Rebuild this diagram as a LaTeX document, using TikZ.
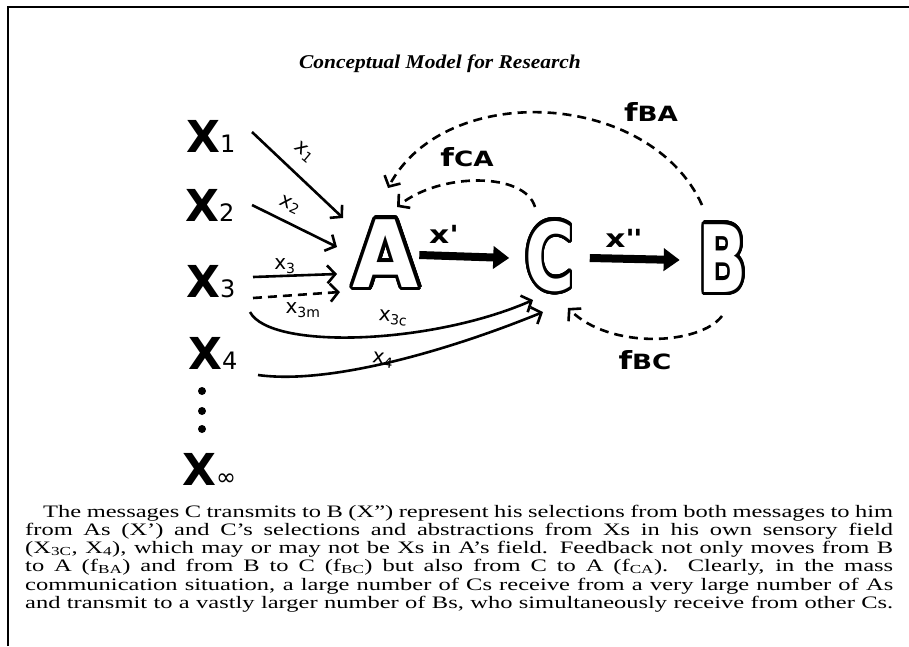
\documentclass[tikz,border=0pt]{standalone}
\usepackage{fontspec}
\setmainfont{Liberation Serif}[FakeStretch=1.4]
\newfontfamily\titlefont{Liberation Serif}[FakeStretch=1.1]
\newfontfamily\handfont{DejaVu Sans}
\newfontfamily\labelfont{DejaVu Sans}[FakeStretch=1.25]
\usepackage[copies]{contour}
\contourlength{3.5pt}
\contournumber{32}
\usetikzlibrary{arrows.meta}

\newcommand{\bigX}[1]{{\fontsize{44}{44}\selectfont\bfseries X}{\fontsize{24}{24}\selectfont #1}}
\newcommand{\flab}[1]{{\fontsize{25}{25}\selectfont f}{\fontsize{21}{21}\selectfont #1}}

\tikzset{
  bigx/.style={anchor=base west, inner sep=0pt, font=\handfont},
  letter/.style={inner sep=0pt, text=white, font=\handfont\bfseries\fontsize{93}{93}\selectfont},
  flow/.style={line width=2.6pt, -{Straight Barb[length=8pt,width=18pt]}},
  feedback/.style={flow, dash pattern=on 9pt off 6pt},
  bigarrow/.style={line width=8pt, -{Triangle[length=16pt,width=22pt]}},
  lbl/.style={inner sep=0pt, font=\handfont\fontsize{20}{20}\selectfont},
  plbl/.style={inner sep=0pt, font=\labelfont\bfseries\fontsize{25}{25}\selectfont},
  flbl/.style={inner sep=0pt, font=\labelfont\bfseries},
  textline/.style={anchor=base west, inner sep=0pt, font=\fontsize{17.5}{17.5}\selectfont},
}

\begin{document}
\begin{tikzpicture}[x=1pt, y=-1pt]
    \useasboundingbox (0,0) rectangle (909,646);
    \draw[line width=2pt] (8,646) -- (8,7) -- (909,7);

    % title
    \node[anchor=base, inner sep=0pt, font=\titlefont\itshape\bfseries\fontsize{19.5}{19.5}\selectfont] (title) at (440,68) {Conceptual Model for Research};

    % sources
    \node[bigx] (X1) at (186,152) {\bigX{1}};
    \node[bigx] (X2) at (185,221) {\bigX{2}};
    \node[bigx] (X3) at (186,297) {\bigX{3}};
    \node[bigx] (X4) at (188,369) {\bigX{4}};
    \node[bigx] (Xinf) at (182,485) {\bigX{∞}};
    \foreach \y in {391,411,429}
        \fill (202,\y) circle (4pt);

    % A, C, B
    \node[letter] (A) at (386,255) {\scalebox{0.92}[1]{\contour{black}{A}}};
    \node[letter] (C) at (550,258) {\scalebox{0.72}[1]{\contour{black}{C}}};
    \node[letter] (B) at (723,260) {\scalebox{0.68}[1]{\contour{black}{B}}};

    % messages from the Xs
    \coordinate (s1) at (252,132);  \coordinate (t1) at (343,218);
    \coordinate (s2) at (252,205);  \coordinate (t2) at (337,247);
    \coordinate (s3) at (253,277);  \coordinate (t3) at (337,274);
    \coordinate (s3m) at (253,298); \coordinate (t3m) at (340,292);
    \coordinate (s3c) at (250,312); \coordinate (t3c) at (533,300);
    \coordinate (s4) at (258,375);  \coordinate (t4) at (543,312);
    \draw[flow] (s1) -- (t1);
    \draw[flow] (s2) -- (t2);
    \draw[flow] (s3) -- (t3);
    \draw[feedback] (s3m) -- (t3m);
    \draw[flow] (s3c) .. controls (270,350) and (430,345) .. (t3c);
    \draw[flow] (s4) .. controls (330,385) and (450,350) .. (t4);
    \node[lbl, rotate=-40] (lx1) at (304,152) {x\textsubscript{1}};
    \node[lbl, rotate=-25] (lx2) at (290,205) {x\textsubscript{2}};
    \node[lbl] (lx3) at (285,266) {x\textsubscript{3}};
    \node[lbl] (lx3m) at (303,310) {x\textsubscript{3m}};
    \node[lbl, rotate=-5] (lx3c) at (393,318) {x\textsubscript{3c}};
    \node[lbl, rotate=-8] (lx4) at (383,360) {x\textsubscript{4}};

    % A -> C -> B
    \draw[bigarrow] (A.east) -- ([xshift=-16pt]C.west);
    \draw[bigarrow] ([xshift=15pt]C.east) -- ([xshift=-19pt]B.west);
    \node[plbl] (lxp) at (443,234) {x\textquotesingle};
    \node[plbl] (lxpp) at (623,238) {x\textquotesingle\textquotesingle};

    % feedback
    \draw[feedback] (535,207) .. controls (525,172) and (440,172) .. (397,207);
    \draw[feedback] (702,205) .. controls (650,90) and (445,80) .. (388,188);
    \draw[feedback] (722,316) .. controls (700,345) and (610,350) .. (568,308);
    \node[flbl] (fca) at (467,157) {\flab{CA}};
    \node[flbl] (fba) at (651,112) {\flab{BA}};
    \node[flbl] (fbc) at (645,360) {\flab{BC}};

    % caption
    \node[textline] (line1) at (43,517) {\makebox[850pt][s]{The messages C transmits to B (X”) represent his selections from both messages to him}};
    \node[textline] (line2) at (25,535) {\makebox[868pt][s]{from As (X’) and C’s selections and abstractions from Xs in his own sensory field}};
    \node[textline] (line3) at (25,553) {\makebox[868pt][s]{(X\textsubscript{3C}, X\textsubscript{4}), which may or may not be Xs in A’s field. Feedback not only moves from B}};
    \node[textline] (line4) at (25,571) {\makebox[868pt][s]{to A (f\textsubscript{BA}) and from B to C (f\textsubscript{BC}) but also from C to A (f\textsubscript{CA}). Clearly, in the mass}};
    \node[textline] (line5) at (25,590) {\makebox[868pt][s]{communication situation, a large number of Cs receive from a very large number of As}};
    \node[textline] (line6) at (25,608) {\makebox[868pt][s]{and transmit to a vastly larger number of Bs, who simultaneously receive from other Cs.}};
\end{tikzpicture}
\end{document}
